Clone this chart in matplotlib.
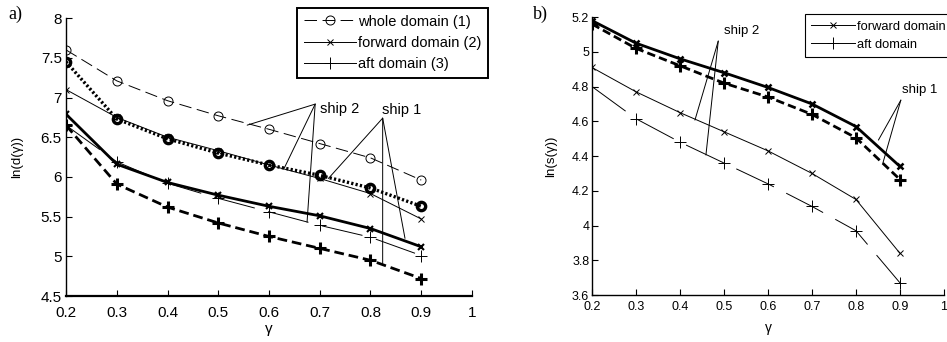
import matplotlib
matplotlib.use("Agg")
import matplotlib.pyplot as plt
from matplotlib.lines import Line2D

plt.rcParams['font.family'] = ['Liberation Sans', 'DejaVu Sans']
plt.rcParams['lines.scale_dashes'] = False

gamma = [0.2, 0.3, 0.4, 0.5, 0.6, 0.7, 0.8, 0.9]

# panel a) ln(d(gamma))
d_whole_ship2 = [7.60, 7.21, 6.96, 6.77, 6.60, 6.42, 6.24, 5.96]
d_whole_ship1 = [7.45, 6.73, 6.48, 6.30, 6.15, 6.02, 5.86, 5.63]
d_fwd_ship2 = [7.10, 6.75, 6.50, 6.33, 6.15, 5.98, 5.79, 5.47]
d_fwd_ship1 = [6.79, 6.16, 5.93, 5.77, 5.63, 5.51, 5.35, 5.12]
d_aft_ship2 = [6.65, 6.19, 5.92, 5.73, 5.56, 5.39, 5.24, 5.01]
d_aft_ship1 = [6.65, 5.91, 5.62, 5.42, 5.25, 5.10, 4.95, 4.72]

# panel b) ln(s(gamma))
s_fwd_ship1 = [5.18, 5.05, 4.96, 4.88, 4.795, 4.70, 4.57, 4.34]
s_aft_ship1 = [5.16, 5.02, 4.92, 4.82, 4.74, 4.64, 4.505, 4.265]
s_fwd_ship2 = [4.91, 4.77, 4.65, 4.54, 4.43, 4.30, 4.15, 3.84]
s_aft_ship2 = [4.80, 4.615, 4.48, 4.36, 4.24, 4.11, 3.97, 3.67]

xticks = [0.2, 0.3, 0.4, 0.5, 0.6, 0.7, 0.8, 0.9, 1.0]
xticklabels = ['0.2', '0.3', '0.4', '0.5', '0.6', '0.7', '0.8', '0.9', '1']
yticks_a = [4.5, 5, 5.5, 6, 6.5, 7, 7.5, 8]
yticklabels_a = ['4.5', '5', '5.5', '6', '6.5', '7', '7.5', '8']
yticks_b = [3.6, 3.8, 4.0, 4.2, 4.4, 4.6, 4.8, 5.0, 5.2]
yticklabels_b = ['3.6', '3.8', '4', '4.2', '4.4', '4.6', '4.8', '5', '5.2']

fig = plt.figure(figsize=(9.47, 3.42), dpi=100)
axa = fig.add_axes([0.0697, 0.1345, 0.4287, 0.8125])
axb = fig.add_axes([0.6251, 0.1374, 0.3717, 0.8126])

for ax in (axa, axb):
    ax.spines['top'].set_visible(False)
    ax.spines['right'].set_visible(False)
    ax.set_xlim(0.2, 1.0)
    ax.set_xticks(xticks)
    ax.set_xticklabels(xticklabels)

# ---- panel a
axa.spines['left'].set_linewidth(1.0)
axa.spines['bottom'].set_linewidth(1.6)
axa.set_ylim(4.5, 8)
axa.set_yticks(yticks_a)
axa.set_yticklabels(yticklabels_a)
axa.tick_params(direction='in', length=4, width=0.8, labelsize=11)
axa.tick_params(axis='x', pad=7)
axa.tick_params(axis='y', pad=3)

axa.plot(gamma, d_whole_ship2, color='k', lw=0.7, dashes=(9, 4),
         marker='o', ms=6.5, mfc='none', mec='k', mew=0.7)
axa.plot(gamma, d_fwd_ship2, color='k', lw=0.7,
         marker='x', ms=4.5, mew=0.7)
axa.plot(gamma, d_aft_ship2, color='k', lw=0.7, dashes=(30, 10),
         marker='+', ms=8, mew=0.7)
axa.plot(gamma, d_whole_ship1, color='k', lw=2.4, dashes=(1.6, 1.6),
         marker='o', ms=6, mfc='none', mec='k', mew=2.4)
axa.plot(gamma, d_fwd_ship1, color='k', lw=2.0,
         marker='x', ms=4.5, mew=1.5)
axa.plot(gamma, d_aft_ship1, color='k', lw=2.0, dashes=(7, 3.5),
         marker='+', ms=8, mew=2.2)

# annotations (panel a)
ann_kw = dict(arrowprops=dict(arrowstyle='-', lw=0.7, color='k',
                              shrinkA=0, shrinkB=0))
ship2_anchor_a = (0.691, 6.917)
for tgt in [(0.557, 6.652), (0.630, 6.110), (0.675, 5.43)]:
    axa.annotate('', xy=tgt, xytext=ship2_anchor_a, **ann_kw)
axa.text(0.700, 6.86, 'ship 2', fontsize=10.5, va='center', ha='left')
ship1_anchor_a = (0.824, 6.74)
for tgt in [(0.717, 5.98), (0.868, 5.226), (0.824, 4.91)]:
    axa.annotate('', xy=tgt, xytext=ship1_anchor_a, **ann_kw)
axa.text(0.822, 6.76, 'ship 1', fontsize=10.5, va='bottom', ha='left')

axa.set_ylabel('ln(d(γ))', fontsize=9.5)
axa.yaxis.set_label_coords(-0.105, 0.5)
axa.set_xlabel('γ', fontsize=11)
axa.xaxis.set_label_coords(0.5, -0.095)

leg_handles_a = [
    Line2D([], [], color='k', lw=0.7, dashes=(9, 4), marker='o', ms=6.5,
           mfc='none', mew=0.7),
    Line2D([], [], color='k', lw=0.7, marker='x', ms=4, mew=0.7),
    Line2D([], [], color='k', lw=0.7, marker='+', ms=8, mew=0.7),
]
lega = axa.legend(leg_handles_a,
                  ['whole domain (1)', 'forward domain (2)', 'aft domain (3)'],
                  loc='upper left', bbox_to_anchor=(297 / 947, 1 - 8 / 342),
                  bbox_transform=fig.transFigure, fontsize=10.5,
                  handlelength=3.6, handletextpad=0.15, borderpad=0.45,
                  labelspacing=0.5, borderaxespad=0, fancybox=False,
                  framealpha=1, edgecolor='k', numpoints=1)
lega.get_frame().set_linewidth(1.4)

# ---- panel b
axb.spines['left'].set_linewidth(1.0)
axb.spines['bottom'].set_linewidth(1.0)
axb.set_ylim(3.6, 5.2)
axb.set_yticks(yticks_b)
axb.set_yticklabels(yticklabels_b)
axb.tick_params(direction='in', length=4, width=0.8, labelsize=9)
axb.tick_params(axis='x', pad=4)
axb.tick_params(axis='y', pad=2)

axb.plot(gamma, s_fwd_ship1, color='k', lw=2.0,
         marker='x', ms=5, mew=1.8)
axb.plot(gamma, s_aft_ship1, color='k', lw=2.0, dashes=(6, 3),
         marker='+', ms=8, mew=2.2)
axb.plot(gamma, s_fwd_ship2, color='k', lw=0.7,
         marker='x', ms=4, mew=0.7)
axb.plot(gamma, s_aft_ship2, color='k', lw=0.7, dashes=(30, 10),
         marker='+', ms=8, mew=0.7)

ship2_anchor_b = (0.487, 5.062)
for tgt in [(0.434, 4.607), (0.459, 4.406)]:
    axb.annotate('', xy=tgt, xytext=ship2_anchor_b, **ann_kw)
axb.text(0.500, 5.12, 'ship 2', fontsize=9.5, va='center', ha='left')
ship1_anchor_b = (0.902, 4.722)
for tgt in [(0.851, 4.492), (0.861, 4.358)]:
    axb.annotate('', xy=tgt, xytext=ship1_anchor_b, **ann_kw)
axb.text(0.905, 4.78, 'ship 1', fontsize=9.5, va='center', ha='left')

axb.set_ylabel('ln(s(γ))', fontsize=9.5)
axb.yaxis.set_label_coords(-0.1, 0.5)
axb.set_xlabel('γ', fontsize=10)
axb.xaxis.set_label_coords(0.5, -0.092)

leg_handles_b = [
    Line2D([], [], color='k', lw=0.7, marker='x', ms=4, mew=0.7),
    Line2D([], [], color='k', lw=0.7, marker='+', ms=8, mew=0.7),
]
legb = axb.legend(leg_handles_b, ['forward domain', 'aft domain'],
                  loc='upper left', bbox_to_anchor=(805 / 947, 1 - 14 / 342),
                  bbox_transform=fig.transFigure, fontsize=9.3,
                  handlelength=3.4, handletextpad=0.15, borderpad=0.5,
                  labelspacing=0.5, borderaxespad=0, fancybox=False,
                  framealpha=1, edgecolor='k', numpoints=1)
legb.get_frame().set_linewidth(0.8)

fig.text(8 / 947, 1 - 14 / 342, 'a)', fontsize=13, family='Liberation Serif',
         ha='left', va='center')
fig.text(533 / 947, 1 - 14 / 342, 'b)', fontsize=13, family='Liberation Serif',
         ha='left', va='center')

fig.savefig('out.png', dpi=100)
